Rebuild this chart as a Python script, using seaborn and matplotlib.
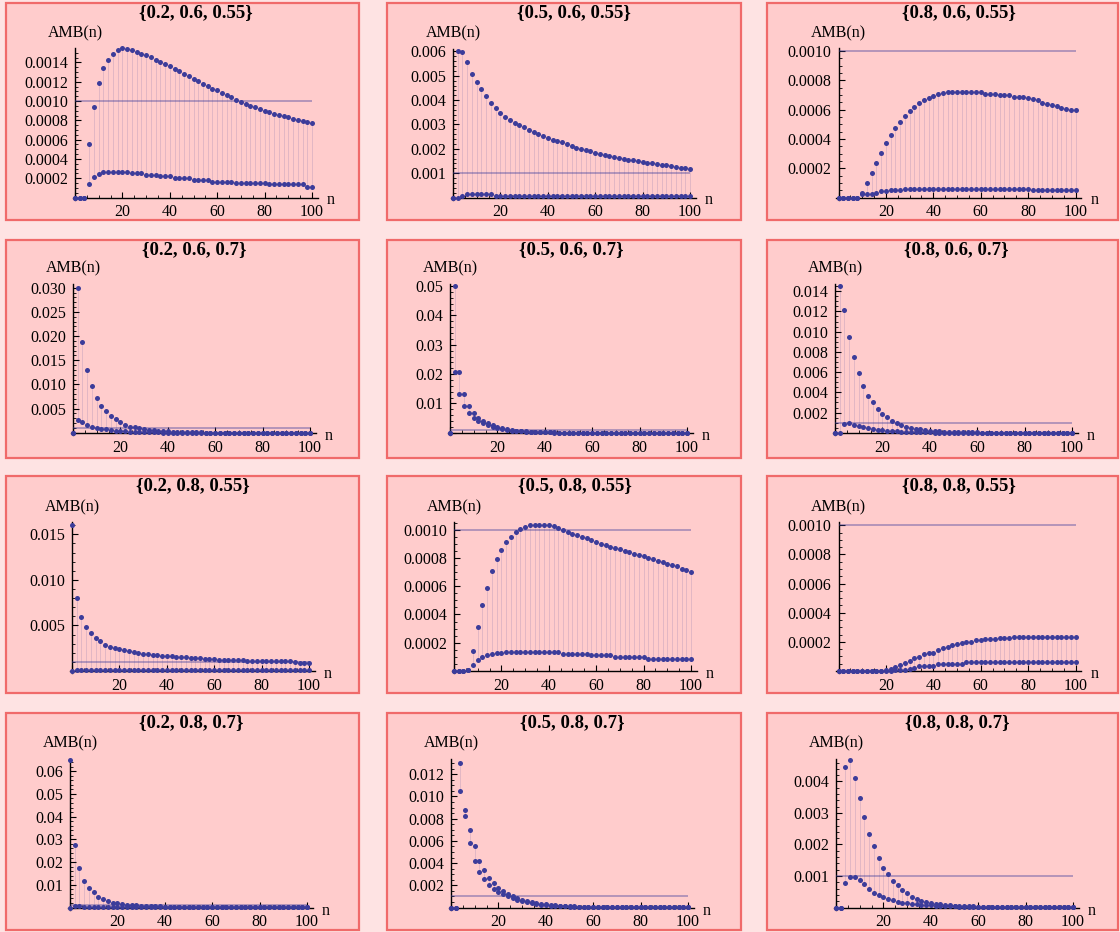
import numpy as np
import matplotlib
matplotlib.use("Agg")
import matplotlib.pyplot as plt
from matplotlib.patches import Rectangle
from matplotlib.ticker import MultipleLocator, FuncFormatter
import seaborn as sns

# n = 0, 2, ..., 100 ; values below are AMB(n) in units of 1e-3
n = np.arange(0, 101, 2)

titles = ["{0.2, 0.6, 0.55}", "{0.5, 0.6, 0.55}", "{0.8, 0.6, 0.55}",
          "{0.2, 0.6, 0.7}", "{0.5, 0.6, 0.7}", "{0.8, 0.6, 0.7}",
          "{0.2, 0.8, 0.55}", "{0.5, 0.8, 0.55}", "{0.8, 0.8, 0.55}",
          "{0.2, 0.8, 0.7}", "{0.5, 0.8, 0.7}", "{0.8, 0.8, 0.7}"]

p1_up = [0, 0, 0, 0.55, 0.94, 1.19, 1.34, 1.43, 1.49, 1.53,
         1.545, 1.54, 1.53, 1.51, 1.49, 1.48, 1.46, 1.43, 1.41, 1.38,
         1.36, 1.33, 1.31, 1.28, 1.26, 1.23, 1.21, 1.18, 1.16, 1.13,
         1.11, 1.08, 1.06, 1.04, 1.01, 0.99, 0.97, 0.95, 0.935, 0.92,
         0.90, 0.885, 0.87, 0.855, 0.84, 0.83, 0.815, 0.80, 0.79, 0.78,
         0.77]
p1_lo = [0, 0, 0, 0.145, 0.21, 0.24, 0.26, 0.26, 0.26, 0.26,
         0.26, 0.26, 0.25, 0.25, 0.25, 0.235, 0.235, 0.235, 0.22, 0.22,
         0.22, 0.20, 0.20, 0.20, 0.20, 0.18, 0.18, 0.18, 0.18, 0.165,
         0.165, 0.165, 0.165, 0.165, 0.15, 0.15, 0.15, 0.15, 0.15, 0.15,
         0.15, 0.135, 0.135, 0.135, 0.135, 0.135, 0.135, 0.135, 0.135, 0.11,
         0.11]

p2_up = [0, 6.03, 5.96, 5.55, 5.07, 4.75, 4.45, 4.15, 3.90, 3.67,
         3.47, 3.32, 3.19, 3.08, 2.97, 2.88, 2.77, 2.67, 2.60, 2.53,
         2.44, 2.37, 2.32, 2.26, 2.19, 2.12, 2.05, 1.99, 1.96, 1.89,
         1.84, 1.78, 1.75, 1.71, 1.67, 1.63, 1.60, 1.56, 1.53, 1.49,
         1.47, 1.42, 1.40, 1.37, 1.34, 1.32, 1.30, 1.27, 1.23, 1.21,
         1.18]
p2_lo = [0, 0, 0.05, 0.13, 0.13, 0.13, 0.13, 0.13, 0.13, 0.08,
         0.08, 0.08, 0.08, 0.08, 0.08, 0.08, 0.08, 0.08, 0.08, 0.08,
         0.08, 0.06, 0.06, 0.06, 0.06, 0.06, 0.06, 0.06, 0.06, 0.06,
         0.06, 0.06, 0.06, 0.06, 0.06, 0.06, 0.06, 0.06, 0.06, 0.06,
         0.06, 0.06, 0.06, 0.06, 0.06, 0.06, 0.06, 0.06, 0.06, 0.06,
         0.06]

p3_up = [0, 0, 0, 0, 0, 0.034, 0.096, 0.164, 0.235, 0.304,
         0.37, 0.427, 0.473, 0.516, 0.559, 0.589, 0.616, 0.644, 0.667, 0.68,
         0.692, 0.703, 0.715, 0.721, 0.721, 0.721, 0.721, 0.721, 0.721, 0.721,
         0.721, 0.708, 0.708, 0.708, 0.699, 0.699, 0.699, 0.687, 0.687, 0.687,
         0.678, 0.669, 0.662, 0.646, 0.64, 0.628, 0.621, 0.612, 0.603, 0.594,
         0.594]
p3_lo = [0, 0, 0, 0, 0, 0.023, 0.027, 0.027, 0.034, 0.041,
         0.046, 0.053, 0.053, 0.053, 0.057, 0.057, 0.057, 0.057, 0.057, 0.057,
         0.057, 0.057, 0.057, 0.057, 0.057, 0.057, 0.057, 0.057, 0.057, 0.057,
         0.057, 0.057, 0.057, 0.057, 0.057, 0.057, 0.057, 0.057, 0.057, 0.057,
         0.057, 0.05, 0.05, 0.05, 0.05, 0.05, 0.05, 0.05, 0.05, 0.05,
         0.05]

p4_up = [0, 30.0, 18.7, 13.0, 9.7, 7.1, 5.5, 4.5, 3.5, 2.75,
         2.2, 1.7, 1.3, 1.1, 0.9, 0.7, 0.55, 0.48, 0.41, 0.34,
         0.28, 0.23, 0.19, 0.16, 0.13, 0.11, 0.09, 0.075, 0.06, 0.05,
         0.04, 0.035, 0.03, 0.025, 0.02, 0.018, 0.015, 0.013, 0.011, 0.01,
         0.008, 0.007, 0.006, 0.005, 0.004, 0.004, 0.003, 0.003, 0.002, 0.002,
         0.002]
p4_lo = [0, 2.55, 2.27, 1.6, 1.24, 0.96, 0.83, 0.69, 0.55, 0.45,
         0.37, 0.30, 0.24, 0.20, 0.16, 0.13, 0.11, 0.09, 0.075, 0.06,
         0.05, 0.04, 0.035, 0.03, 0.025, 0.02, 0.017, 0.014, 0.012, 0.01,
         0.008, 0.007, 0.006, 0.005, 0.004, 0.004, 0.003, 0.003, 0.002, 0.002,
         0.002, 0.001, 0.001, 0.001, 0.001, 0.001, 0.001, 0, 0, 0,
         0]

p5_up = [0, 50.0, 20.7, 13.1, 9.2, 6.8, 5.2, 4.0, 3.2, 2.6,
         2.1, 1.6, 1.2, 0.9, 0.7, 0.55, 0.45, 0.35, 0.28, 0.22,
         0.17, 0.14, 0.11, 0.09, 0.07, 0.06, 0.05, 0.04, 0.03, 0.025,
         0.02, 0.017, 0.014, 0.012, 0.01, 0.008, 0.007, 0.006, 0.005, 0.004,
         0.003, 0.003, 0.002, 0.002, 0.002, 0.001, 0.001, 0.001, 0.001, 0.001,
         0.001]
p5_lo = [0, 20.7, 13.1, 9.2, 6.8, 5.2, 4.0, 3.2, 2.6, 2.1,
         1.6, 1.2, 0.9, 0.7, 0.55, 0.45, 0.35, 0.28, 0.22, 0.17,
         0.14, 0.11, 0.09, 0.07, 0.06, 0.05, 0.04, 0.03, 0.025, 0.02,
         0.017, 0.014, 0.012, 0.01, 0.008, 0.007, 0.006, 0.005, 0.004, 0.003,
         0.003, 0.002, 0.002, 0.002, 0.001, 0.001, 0.001, 0.001, 0.001, 0,
         0]

p6_up = [0, 14.5, 12.15, 9.5, 7.5, 5.9, 4.6, 3.6, 3.0, 2.4,
         1.9, 1.55, 1.2, 1.0, 0.75, 0.6, 0.5, 0.4, 0.33, 0.26,
         0.2, 0.16, 0.13, 0.1, 0.08, 0.07, 0.06, 0.05, 0.04, 0.035,
         0.03, 0.025, 0.02, 0.018, 0.015, 0.013, 0.011, 0.01, 0.008, 0.007,
         0.006, 0.005, 0.004, 0.004, 0.003, 0.003, 0.002, 0.002, 0.002, 0.001,
         0.001]
p6_lo = [0, 0, 0.9, 1.0, 0.8, 0.66, 0.55, 0.45, 0.37, 0.3,
         0.25, 0.2, 0.16, 0.13, 0.1, 0.08, 0.065, 0.05, 0.04, 0.035,
         0.03, 0.025, 0.02, 0.017, 0.014, 0.012, 0.01, 0.008, 0.007, 0.006,
         0.005, 0.004, 0.004, 0.003, 0.003, 0.002, 0.002, 0.002, 0.001, 0.001,
         0.001, 0.001, 0.001, 0.001, 0, 0, 0, 0, 0, 0,
         0]

p7_up = [16.0, 8.0, 5.9, 4.8, 4.2, 3.6, 3.25, 2.9, 2.63, 2.5,
         2.45, 2.27, 2.16, 2.1, 2.0, 1.9, 1.87, 1.8, 1.8, 1.68,
         1.68, 1.65, 1.54, 1.54, 1.54, 1.43, 1.43, 1.40, 1.35, 1.35,
         1.28, 1.24, 1.24, 1.24, 1.24, 1.24, 1.17, 1.06, 1.06, 1.06,
         1.06, 1.06, 1.06, 1.06, 1.06, 1.06, 1.06, 0.99, 0.88, 0.88,
         0.88]
p7_lo = [0, 0.08, 0.08, 0.08, 0.08, 0.08, 0.08, 0.08, 0.08, 0.08,
         0.08, 0.08, 0.08, 0.08, 0.08, 0.08, 0.08, 0.08, 0.08, 0.08,
         0.08, 0.08, 0.08, 0.08, 0.08, 0.08, 0.08, 0.08, 0.08, 0.08,
         0.08, 0.08, 0.08, 0.08, 0.08, 0.08, 0.08, 0.08, 0.08, 0.08,
         0.08, 0.08, 0.08, 0.08, 0.08, 0.08, 0.08, 0.08, 0.08, 0.08,
         0.08]

p8_up = [0, 0, 0, 0.005, 0.14, 0.31, 0.47, 0.59, 0.71, 0.79,
         0.855, 0.91, 0.95, 0.985, 1.005, 1.02, 1.03, 1.03, 1.03, 1.03,
         1.03, 1.025, 1.01, 0.995, 0.985, 0.97, 0.96, 0.95, 0.94, 0.925,
         0.915, 0.90, 0.89, 0.88, 0.87, 0.86, 0.85, 0.84, 0.83, 0.82,
         0.81, 0.80, 0.79, 0.78, 0.77, 0.76, 0.75, 0.74, 0.725, 0.715,
         0.70]
p8_lo = [0, 0, 0, 0.005, 0.04, 0.08, 0.10, 0.11, 0.12, 0.125,
         0.13, 0.135, 0.135, 0.135, 0.135, 0.135, 0.135, 0.135, 0.135, 0.135,
         0.135, 0.135, 0.135, 0.12, 0.12, 0.12, 0.12, 0.12, 0.12, 0.11,
         0.11, 0.11, 0.11, 0.11, 0.10, 0.10, 0.10, 0.10, 0.10, 0.10,
         0.10, 0.085, 0.085, 0.085, 0.085, 0.085, 0.085, 0.085, 0.085, 0.085,
         0.085]

p9_up = [0, 0, 0, 0, 0, 0, 0, 0, 0, 0,
         0.005, 0.014, 0.03, 0.04, 0.053, 0.068, 0.087, 0.098, 0.114, 0.126,
         0.126, 0.144, 0.155, 0.167, 0.178, 0.185, 0.194, 0.2, 0.2, 0.212,
         0.212, 0.219, 0.219, 0.219, 0.228, 0.228, 0.228, 0.235, 0.235, 0.235,
         0.235, 0.235, 0.235, 0.235, 0.235, 0.235, 0.235, 0.235, 0.235, 0.235,
         0.235]
p9_lo = [0, 0, 0, 0, 0, 0, 0, 0, 0, 0,
         0, 0, 0.01, 0.01, 0.01, 0.015, 0.023, 0.034, 0.034, 0.034,
         0.034, 0.046, 0.046, 0.046, 0.046, 0.046, 0.046, 0.059, 0.059, 0.059,
         0.059, 0.059, 0.059, 0.059, 0.059, 0.059, 0.059, 0.059, 0.059, 0.059,
         0.059, 0.059, 0.059, 0.059, 0.059, 0.059, 0.059, 0.059, 0.059, 0.059,
         0.059]

p10_up = [64.9, 27.5, 17.4, 11.7, 8.8, 6.7, 4.75, 3.6, 2.8, 2.2,
          1.8, 1.5, 1.3, 1.1, 0.95, 0.8, 0.7, 0.6, 0.5, 0.45,
          0.4, 0.35, 0.3, 0.26, 0.23, 0.2, 0.18, 0.16, 0.14, 0.12,
          0.11, 0.1, 0.09, 0.08, 0.07, 0.065, 0.06, 0.055, 0.05, 0.045,
          0.04, 0.037, 0.034, 0.031, 0.028, 0.026, 0.024, 0.022, 0.02, 0.018,
          0.016]
p10_lo = [0, 0.6, 0.5, 0.4, 0.3, 0.25, 0.2, 0.16, 0.13, 0.1,
          0.08, 0.07, 0.06, 0.05, 0.04, 0.035, 0.03, 0.025, 0.02, 0.018,
          0.015, 0.013, 0.011, 0.01, 0.009, 0.008, 0.007, 0.006, 0.005, 0.005,
          0.004, 0.004, 0.004, 0.004, 0.004, 0.003, 0.003, 0.003, 0.003, 0.003,
          0.003, 0.003, 0.003, 0.003, 0.003, 0.002, 0.002, 0.002, 0.002, 0.002,
          0.002]

p11_up = [0, 0, 13.0, 8.8, 7.0, 5.5, 4.2, 3.4, 2.7, 2.2,
          1.8, 1.5, 1.26, 1.05, 0.88, 0.72, 0.6, 0.5, 0.42, 0.35,
          0.3, 0.25, 0.2, 0.17, 0.14, 0.12, 0.1, 0.085, 0.07, 0.06,
          0.05, 0.042, 0.035, 0.03, 0.025, 0.021, 0.018, 0.015, 0.012, 0.01,
          0.009, 0.008, 0.007, 0.006, 0.005, 0.004, 0.004, 0.003, 0.003, 0.002,
          0.002]
p11_lo = [0, 0, 10.5, 8.2, 5.8, 4.2, 3.2, 2.55, 2.0, 1.7,
          1.4, 1.2, 1.0, 0.85, 0.7, 0.58, 0.48, 0.4, 0.33, 0.27,
          0.22, 0.18, 0.15, 0.12, 0.1, 0.085, 0.07, 0.06, 0.05, 0.04,
          0.035, 0.03, 0.025, 0.02, 0.017, 0.014, 0.012, 0.01, 0.008, 0.007,
          0.006, 0.005, 0.004, 0.004, 0.003, 0.003, 0.002, 0.002, 0.002, 0.001,
          0.001]

p12_up = [0, 0, 4.46, 4.67, 4.1, 3.48, 2.86, 2.34, 1.95, 1.57,
          1.25, 1.06, 0.845, 0.72, 0.556, 0.45, 0.34, 0.27, 0.21, 0.16,
          0.13, 0.107, 0.096, 0.08, 0.07, 0.06, 0.05, 0.045, 0.04, 0.035,
          0.03, 0.027, 0.024, 0.021, 0.018, 0.016, 0.014, 0.012, 0.011, 0.01,
          0.009, 0.008, 0.007, 0.006, 0.005, 0.005, 0.004, 0.004, 0.003, 0.003,
          0.003]
p12_lo = [0, 0, 0.79, 0.98, 0.98, 0.88, 0.74, 0.59, 0.47, 0.40,
          0.32, 0.26, 0.235, 0.18, 0.15, 0.13, 0.11, 0.1, 0.09, 0.08,
          0.07, 0.06, 0.05, 0.045, 0.04, 0.035, 0.03, 0.027, 0.024, 0.021,
          0.018, 0.016, 0.014, 0.012, 0.011, 0.01, 0.009, 0.008, 0.007, 0.006,
          0.005, 0.005, 0.004, 0.004, 0.003, 0.003, 0.003, 0.002, 0.002, 0.002,
          0.002]

uppers = [p1_up, p2_up, p3_up, p4_up, p5_up, p6_up,
          p7_up, p8_up, p9_up, p10_up, p11_up, p12_up]
lowers = [p1_lo, p2_lo, p3_lo, p4_lo, p5_lo, p6_lo,
          p7_lo, p8_lo, p9_lo, p10_lo, p11_lo, p12_lo]
threshold = 0.001

# axis ranges / tick settings per panel
ymax = [0.001545, 0.00612, 0.001016, 0.0308, 0.0508, 0.01473,
        0.01635, 0.001054, 0.001023, 0.0656, 0.01342, 0.00473]
ystep = [0.0002, 0.001, 0.0002, 0.005, 0.01, 0.002,
         0.005, 0.0002, 0.0002, 0.01, 0.002, 0.001]
ysub = [4, 5, 4, 5, 5, 4, 5, 4, 4, 5, 4, 5]
ydec = [4, 3, 4, 3, 2, 3, 3, 4, 4, 2, 3, 3]

# layout in pixels
W, H = 1120, 932
box_cols = [(6, 359), (387, 741), (767, 1118)]
box_rows = [(3, 220), (240, 458), (476, 693), (713, 930)]
x0_px = [75, 453, 838.5, 73, 450, 835, 72, 454, 838.5, 70, 451, 836]
y0_row = [197.5, 432.8, 671, 907.5]
XS = 2.37
AX_H = 149

DOT = "#3c3c9a"

sns.set_style("ticks")
plt.rcParams['font.family'] = ['Liberation Serif', 'DejaVu Serif']

fig = plt.figure(figsize=(W / 100, H / 100), dpi=100)
fig.patch.set_facecolor("#fee3e3")

for i in range(12):
    r, c = divmod(i, 3)
    bl, br = box_cols[c]
    bt, bb = box_rows[r]
    fig.add_artist(Rectangle((bl / W, 1 - bb / H), (br - bl) / W, (bb - bt) / H,
                             transform=fig.transFigure, facecolor="#ffcccc",
                             edgecolor="#f06a6a", lw=1.6, zorder=-2))

    x0 = x0_px[i]
    y0 = y0_row[r]
    left = x0 - 1.0 * XS
    right = x0 + 102.5 * XS
    top = y0 - AX_H
    bottom = y0 + 0.015 * AX_H
    ax = fig.add_axes([left / W, 1 - bottom / H, (right - left) / W, (bottom - top) / H])
    ax.set_facecolor("none")

    up = np.array(uppers[i]) * 1e-3
    lo = np.array(lowers[i]) * 1e-3

    # filling between the two series
    ax.vlines(n, lo, up, colors=DOT, alpha=0.15, lw=0.7, zorder=2)
    ax.hlines(threshold, 0, 100, colors=DOT, alpha=0.45, lw=1.2, zorder=3)
    sns.scatterplot(x=n, y=up, ax=ax, color=DOT, s=13, linewidth=0, zorder=4, clip_on=False)
    sns.scatterplot(x=n, y=lo, ax=ax, color=DOT, s=13, linewidth=0, zorder=4, clip_on=False)

    ax.set_xlim(-1, 102.5)
    ax.set_ylim(-0.015 * ymax[i], ymax[i])
    ax.set_xlabel("")
    ax.set_ylabel("")

    for s in ["top", "right"]:
        ax.spines[s].set_visible(False)
    ax.spines["left"].set_position(("data", 0))
    ax.spines["bottom"].set_position(("data", 0))
    for s in ["left", "bottom"]:
        ax.spines[s].set_color("black")
        ax.spines[s].set_linewidth(1.0)

    ax.xaxis.set_major_locator(MultipleLocator(20))
    ax.xaxis.set_minor_locator(MultipleLocator(5))
    ax.xaxis.set_major_formatter(FuncFormatter(lambda v, p: "" if v < 1 else f"{v:.0f}"))
    st = ystep[i]
    d = ydec[i]
    ax.yaxis.set_major_locator(MultipleLocator(st))
    ax.yaxis.set_minor_locator(MultipleLocator(st / ysub[i]))
    ax.yaxis.set_major_formatter(FuncFormatter(
        lambda v, p, st=st, d=d: "" if abs(v) < st / 10 else f"{v:.{d}f}"))
    ax.tick_params(which="major", direction="in", length=4, width=0.8,
                   labelsize=11.5, pad=5, colors="black")
    ax.tick_params(which="minor", direction="in", length=2.2, width=0.6, colors="black")

    ax.annotate("AMB(n)", xy=(0, ymax[i]), xytext=(0, 15), textcoords="offset pixels",
                ha="center", va="center", fontsize=11.5, color="black", annotation_clip=False)
    ax.annotate("n", xy=(100, 0), xytext=(19, -3), textcoords="offset pixels",
                ha="center", va="center", fontsize=11.5, color="black", annotation_clip=False)

    fig.text((x0 + 51 * XS) / W, 1 - (bt + 10) / H, titles[i], ha="center", va="center",
             fontsize=13.5, fontweight="bold", color="black")

fig.savefig("out.png", dpi=100, facecolor=fig.get_facecolor())
